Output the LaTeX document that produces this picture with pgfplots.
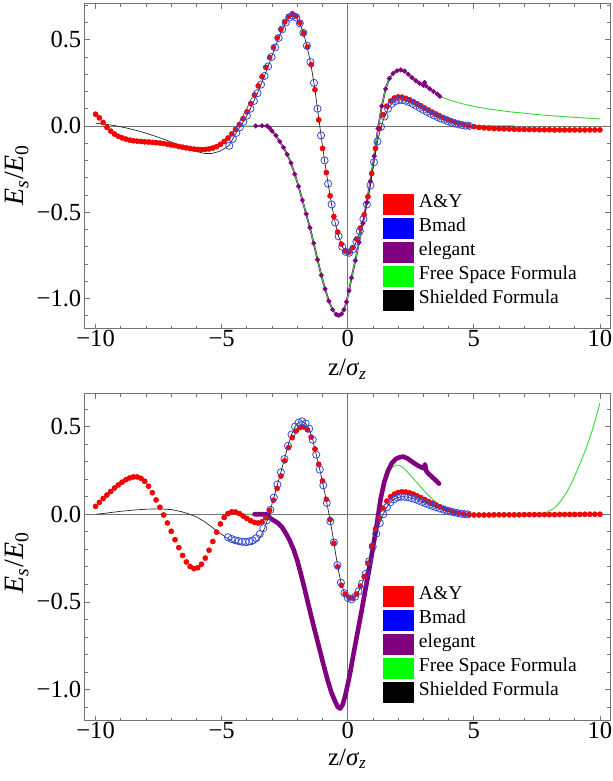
\documentclass[border=0pt]{standalone}
\usepackage{fontspec}
\setmainfont{Liberation Serif}
\usepackage{pgfplots}
\pgfplotsset{compat=1.18}
\definecolor{myred}{rgb}{1,0,0}
\definecolor{myblue}{rgb}{0,0,1}
\definecolor{circblue}{rgb}{0.2,0.3,0.85}
\definecolor{mypurple}{rgb}{0.5,0,0.5}
\definecolor{mygreen}{rgb}{0,1,0}
\definecolor{linegreen}{rgb}{0.2,0.85,0.2}
\definecolor{framegray}{gray}{0.45}
\pgfplotsset{
 mystyle/.style={
  scale only axis, width=262.5pt, anchor=south west,
  xmin=-10.42, xmax=10.4,
  xtick={-10,-5,0,5,10}, xticklabels={−10,−5,0,5,10},
  minor xtick={-9,-8,-7,-6,-4,-3,-2,-1,1,2,3,4,6,7,8,9},
  ytick={-1,-0.5,0,0.5}, yticklabels={−1.0,−0.5,0.0,0.5},
  tick align=inside, tick pos=both,
  major tick length=2.5pt, minor tick length=1.4pt,
  axis line style={framegray, line width=0.5pt},
  tick style={framegray, line width=0.4pt},
  tick label style={font=\fontsize{12.3}{14}\selectfont, text=black},
  yticklabel style={inner xsep=1.65pt},
  xticklabel style={inner ysep=0.6pt},
  xlabel style={font=\fontsize{12.5}{14}\selectfont},
  ylabel style={font=\fontsize{14}{16}\selectfont},
  xlabel={z/\textit{σ}\textsubscript{\textit{z}}},
  ylabel={\textit{E}\textsubscript{\textit{s}}/\textit{E}\textsubscript{0}},
  extra x ticks={0}, extra y ticks={0}, extra x tick labels={}, extra y tick labels={},
  extra tick style={grid=major, major grid style={framegray, line width=0.45pt}, major tick length=0pt},
  legend cell align=left,
  legend style={draw=none, fill=none, inner sep=0pt, anchor=north west,
    font=\fontsize{9.8}{11}\selectfont, column sep=2.5pt, row sep=0pt,
    nodes={inner xsep=0pt, inner ysep=0.825pt, text height=6.8pt, text depth=3.55pt}},
 },
 swatch/.style={legend image code/.code={\fill[#1, draw=none, line width=0pt] (0pt,-5.175pt) rectangle (15.3pt,5.175pt);}},
 redpts/.style={only marks, mark=*, mark size=1.3pt, color=myred, mark options={fill=myred, draw=myred!85!black, line width=0.2pt}, swatch=myred},
 bluepts/.style={only marks, mark=o, mark size=1.8pt, color=circblue, mark options={line width=0.4pt}, swatch=myblue},
 greenline/.style={linegreen, line width=0.45pt, no marks, swatch=mygreen},
 blackline/.style={black!85, line width=0.35pt, no marks, swatch=black},
}
\begin{document}
\begin{tikzpicture}
\useasboundingbox (0,0) rectangle (306.5pt,390.5pt);
%================ TOP =================
\begin{axis}[mystyle, at={(42.5pt,226pt)}, height=162.5pt,
  ymin=-1.177, ymax=0.707,
  minor ytick={-1.1,-0.9,-0.8,-0.7,-0.6,-0.4,-0.3,-0.2,-0.1,0.1,0.2,0.3,0.4,0.6,0.7},
  xlabel style={at={(axis description cs:0.5,-0.123)}, anchor=center},
  ylabel style={at={(axis description cs:-0.1295,0.474)}, anchor=center, rotate=0},
  legend style={at={(0.5676,0.4205)}}]
\addplot[redpts] coordinates {(-10.00,0.068) (-9.85,0.047) (-9.70,0.020) (-9.55,-0.008) (-9.40,-0.030) (-9.25,-0.047) (-9.10,-0.060) (-8.95,-0.069) (-8.80,-0.076) (-8.65,-0.082) (-8.50,-0.086) (-8.35,-0.088) (-8.20,-0.090) (-8.05,-0.092) (-7.90,-0.093) (-7.75,-0.095) (-7.60,-0.097) (-7.45,-0.099) (-7.30,-0.102) (-7.15,-0.106) (-7.00,-0.110) (-6.85,-0.114) (-6.70,-0.119) (-6.55,-0.123) (-6.40,-0.127) (-6.25,-0.131) (-6.10,-0.134) (-5.95,-0.136) (-5.80,-0.137) (-5.65,-0.136) (-5.50,-0.133) (-5.35,-0.128) (-5.20,-0.120) (-5.05,-0.107) (-4.90,-0.090) (-4.75,-0.070) (-4.60,-0.046) (-4.45,-0.020) (-4.30,0.008) (-4.15,0.042) (-4.00,0.082) (-3.85,0.130) (-3.70,0.180) (-3.55,0.232) (-3.40,0.285) (-3.25,0.340) (-3.10,0.397) (-2.95,0.455) (-2.80,0.510) (-2.65,0.560) (-2.50,0.603) (-2.35,0.635) (-2.20,0.650) (-2.05,0.637) (-1.90,0.598) (-1.75,0.538) (-1.60,0.458) (-1.45,0.355) (-1.30,0.210) (-1.15,0.035) (-1.00,-0.130) (-0.85,-0.270) (-0.70,-0.405) (-0.55,-0.525) (-0.40,-0.615) (-0.25,-0.685) (-0.10,-0.725) (0.05,-0.732) (0.20,-0.705) (0.35,-0.655) (0.50,-0.592) (0.65,-0.515) (0.80,-0.410) (0.95,-0.275) (1.10,-0.130) (1.25,-0.015) (1.40,0.065) (1.55,0.115) (1.70,0.145) (1.85,0.162) (2.00,0.168) (2.15,0.167) (2.30,0.160) (2.45,0.152) (2.60,0.141) (2.75,0.129) (2.90,0.117) (3.05,0.104) (3.20,0.092) (3.35,0.080) (3.50,0.069) (3.65,0.058) (3.80,0.048) (3.95,0.039) (4.10,0.030) (4.25,0.022) (4.40,0.015) (4.60,0.007) (4.80,0.001) (5.00,-0.004) (5.20,-0.008) (5.40,-0.011) (5.60,-0.013) (5.80,-0.015) (6.00,-0.016) (6.20,-0.017) (6.40,-0.018) (6.60,-0.019) (6.80,-0.020) (7.00,-0.020) (7.20,-0.021) (7.40,-0.021) (7.60,-0.022) (7.80,-0.022) (8.00,-0.022) (8.20,-0.023) (8.40,-0.023) (8.60,-0.023) (8.80,-0.023) (9.00,-0.023) (9.20,-0.023) (9.40,-0.023) (9.60,-0.023) (9.80,-0.023) (10.00,-0.023)};
\addlegendentry{A\&Y}
\addplot[bluepts] coordinates {(-4.70,-0.115) (-4.56,-0.075) (-4.42,-0.040) (-4.28,-0.008) (-4.14,0.025) (-4.00,0.060) (-3.86,0.100) (-3.72,0.145) (-3.58,0.190) (-3.44,0.240) (-3.30,0.290) (-3.16,0.345) (-3.02,0.400) (-2.88,0.455) (-2.74,0.510) (-2.60,0.560) (-2.46,0.600) (-2.32,0.628) (-2.18,0.638) (-2.04,0.628) (-1.90,0.595) (-1.76,0.540) (-1.62,0.465) (-1.48,0.370) (-1.34,0.250) (-1.20,0.100) (-1.06,-0.055) (-0.92,-0.200) (-0.78,-0.335) (-0.64,-0.455) (-0.50,-0.560) (-0.36,-0.640) (-0.22,-0.700) (-0.08,-0.730) (0.06,-0.735) (0.20,-0.715) (0.34,-0.670) (0.48,-0.610) (0.62,-0.540) (0.76,-0.455) (0.90,-0.345) (1.04,-0.210) (1.18,-0.090) (1.32,-0.005) (1.46,0.055) (1.60,0.100) (1.74,0.128) (1.88,0.143) (2.02,0.150) (2.16,0.150) (2.30,0.146) (2.44,0.138) (2.58,0.128) (2.72,0.117) (2.86,0.105) (3.00,0.093) (3.14,0.082) (3.28,0.071) (3.42,0.061) (3.56,0.052) (3.70,0.043) (3.84,0.035) (3.98,0.027) (4.12,0.020) (4.26,0.014) (4.40,0.009) (4.54,0.005) (4.68,0.002) (4.82,0.000)};
\addlegendentry{Bmad}
\addplot[mypurple, line width=0.9pt, mark=*, mark size=0.7pt, swatch=mypurple] coordinates {(-3.65,0.000) (-3.40,0.001) (-3.20,0.000) (-3.10,-0.012) (-3.00,-0.030) (-2.85,-0.055) (-2.70,-0.090) (-2.55,-0.125) (-2.40,-0.165) (-2.25,-0.215) (-2.10,-0.280) (-1.95,-0.350) (-1.80,-0.430) (-1.65,-0.510) (-1.50,-0.590) (-1.35,-0.680) (-1.20,-0.775) (-1.05,-0.865) (-0.90,-0.945) (-0.75,-1.015) (-0.60,-1.065) (-0.45,-1.093) (-0.35,-1.098) (-0.25,-1.090) (-0.15,-1.065) (-0.05,-1.020) (0.05,-0.955) (0.15,-0.880) (0.30,-0.780) (0.45,-0.675) (0.60,-0.565) (0.75,-0.445) (0.90,-0.320) (1.05,-0.175) (1.20,-0.015) (1.35,0.115) (1.50,0.215) (1.65,0.275) (1.80,0.305) (1.95,0.320) (2.10,0.325) (2.25,0.318) (2.40,0.300) (2.55,0.280) (2.70,0.262) (2.85,0.247) (3.00,0.236) (3.05,0.252) (3.10,0.232) (3.25,0.215) (3.40,0.200) (3.55,0.185) (3.65,0.172)};
\addlegendentry{elegant}
\addplot[greenline] coordinates {(-4.10,0.000) (-3.65,0.000) (-3.40,0.000) (-3.20,-0.002) (-3.10,-0.012) (-3.00,-0.030) (-2.85,-0.055) (-2.70,-0.090) (-2.55,-0.125) (-2.40,-0.165) (-2.25,-0.215) (-2.10,-0.280) (-1.95,-0.350) (-1.80,-0.430) (-1.65,-0.510) (-1.50,-0.590) (-1.35,-0.680) (-1.20,-0.775) (-1.05,-0.865) (-0.90,-0.945) (-0.75,-1.015) (-0.60,-1.065) (-0.45,-1.093) (-0.35,-1.098) (-0.25,-1.090) (-0.15,-1.065) (-0.05,-1.020) (0.05,-0.955) (0.15,-0.880) (0.30,-0.780) (0.45,-0.675) (0.60,-0.565) (0.75,-0.445) (0.90,-0.320) (1.05,-0.175) (1.20,-0.015) (1.35,0.115) (1.50,0.215) (1.65,0.275) (1.80,0.305) (1.95,0.320) (2.10,0.325) (2.25,0.318) (2.40,0.300) (2.55,0.280) (2.70,0.262) (2.85,0.247) (3.00,0.234) (3.25,0.213) (3.45,0.195) (3.65,0.172) (4.00,0.152) (4.40,0.134) (4.80,0.120) (5.20,0.108) (5.60,0.098) (6.00,0.090) (6.50,0.081) (7.00,0.074) (7.50,0.066) (8.00,0.060) (8.50,0.055) (9.00,0.050) (9.50,0.045) (10.00,0.041)};
\addlegendentry{Free Space Formula}
\addplot[blackline] coordinates {(-10.00,0.016) (-9.60,0.010) (-9.20,0.001) (-8.80,-0.011) (-8.40,-0.025) (-8.00,-0.042) (-7.60,-0.061) (-7.20,-0.082) (-6.80,-0.104) (-6.40,-0.127) (-6.00,-0.148) (-5.70,-0.159) (-5.40,-0.160) (-5.10,-0.148) (-4.90,-0.132) (-4.70,-0.112) (-4.56,-0.075) (-4.42,-0.040) (-4.28,-0.008) (-4.14,0.025) (-4.00,0.060) (-3.86,0.100) (-3.72,0.145) (-3.58,0.190) (-3.44,0.240) (-3.30,0.290) (-3.16,0.345) (-3.02,0.400) (-2.88,0.455) (-2.74,0.510) (-2.60,0.560) (-2.46,0.600) (-2.32,0.628) (-2.18,0.638) (-2.04,0.628) (-1.90,0.595) (-1.76,0.540) (-1.62,0.465) (-1.48,0.370) (-1.34,0.250) (-1.20,0.100) (-1.06,-0.055) (-0.92,-0.200) (-0.78,-0.335) (-0.64,-0.455) (-0.50,-0.560) (-0.36,-0.640) (-0.22,-0.700) (-0.08,-0.730) (0.06,-0.735) (0.20,-0.715) (0.34,-0.670) (0.48,-0.610) (0.62,-0.540) (0.76,-0.455) (0.90,-0.345) (1.04,-0.210) (1.18,-0.090) (1.32,-0.005) (1.46,0.055) (1.60,0.100) (1.74,0.128) (1.88,0.143) (2.02,0.150) (2.16,0.150) (2.30,0.146) (2.44,0.138) (2.58,0.128) (2.72,0.117) (2.86,0.105) (3.00,0.093) (3.14,0.082) (3.28,0.071) (3.42,0.061) (3.56,0.052) (3.70,0.043) (3.84,0.035) (3.98,0.027) (4.12,0.020) (4.26,0.014) (4.40,0.009) (4.54,0.005) (4.68,0.002) (4.82,0.000) (5.50,0.000) (6.60,0.000)};
\addlegendentry{Shielded Formula}
\end{axis}
%================ BOTTOM =================
\begin{axis}[mystyle, at={(42.5pt,30pt)}, height=163.5pt,
  ymin=-1.179, ymax=0.686,
  minor ytick={-1.1,-0.9,-0.8,-0.7,-0.6,-0.4,-0.3,-0.2,-0.1,0.1,0.2,0.3,0.4,0.6},
  xlabel style={at={(axis description cs:0.5,-0.116)}, anchor=center},
  ylabel style={at={(axis description cs:-0.1295,0.485)}, anchor=center, rotate=0},
  legend style={at={(0.5676,0.4179)}}]
% Free Space Formula drawn first so that the thick elegant band covers it
\addplot[greenline, forget plot] coordinates {(-4.00,0.000) (-3.70,0.000) (-3.20,-0.003) (-3.10,-0.020) (-2.90,-0.038) (-2.75,-0.052) (-2.60,-0.075) (-2.45,-0.110) (-2.30,-0.150) (-2.15,-0.200) (-2.00,-0.265) (-1.85,-0.345) (-1.70,-0.432) (-1.55,-0.522) (-1.40,-0.610) (-1.25,-0.695) (-1.10,-0.780) (-0.95,-0.865) (-0.80,-0.945) (-0.65,-1.015) (-0.50,-1.068) (-0.40,-1.098) (-0.30,-1.105) (-0.20,-1.085) (-0.10,-1.035) (0.00,-0.970) (0.10,-0.900) (0.25,-0.780) (0.40,-0.665) (0.55,-0.550) (0.70,-0.430) (0.85,-0.315) (1.00,-0.190) (1.15,-0.060) (1.30,0.070) (1.45,0.160) (1.60,0.225) (1.75,0.265) (1.90,0.280) (2.00,0.281) (2.15,0.270) (2.30,0.252) (2.45,0.228) (2.60,0.204) (2.75,0.180) (2.90,0.155) (3.05,0.130) (3.20,0.108) (3.40,0.080) (3.60,0.058) (3.80,0.040) (4.00,0.025) (4.20,0.014) (4.40,0.006) (4.70,0.001) (5.00,0.000) (6.00,0.000) (7.00,0.000) (7.40,0.001) (7.70,0.005) (7.90,0.012) (8.10,0.027) (8.30,0.050) (8.50,0.085) (8.70,0.130) (8.90,0.185) (9.10,0.250) (9.30,0.320) (9.50,0.395) (9.70,0.480) (9.85,0.555) (10.00,0.633)};
\addplot[redpts] coordinates {(-10.00,0.045) (-9.85,0.068) (-9.70,0.090) (-9.55,0.110) (-9.40,0.130) (-9.25,0.150) (-9.10,0.167) (-8.95,0.183) (-8.80,0.197) (-8.65,0.207) (-8.50,0.213) (-8.35,0.213) (-8.20,0.205) (-8.05,0.188) (-7.90,0.160) (-7.75,0.123) (-7.60,0.082) (-7.45,0.040) (-7.30,-0.004) (-7.15,-0.050) (-7.00,-0.097) (-6.85,-0.145) (-6.70,-0.190) (-6.55,-0.235) (-6.40,-0.272) (-6.25,-0.298) (-6.10,-0.310) (-5.95,-0.305) (-5.80,-0.285) (-5.65,-0.250) (-5.50,-0.205) (-5.35,-0.155) (-5.20,-0.102) (-5.05,-0.055) (-4.90,-0.018) (-4.75,0.004) (-4.60,0.014) (-4.45,0.013) (-4.30,0.004) (-4.15,-0.010) (-4.00,-0.024) (-3.85,-0.037) (-3.70,-0.046) (-3.55,-0.050) (-3.40,-0.043) (-3.25,-0.020) (-3.10,0.022) (-2.95,0.080) (-2.80,0.148) (-2.65,0.218) (-2.50,0.305) (-2.35,0.380) (-2.20,0.437) (-2.05,0.475) (-1.90,0.495) (-1.75,0.498) (-1.60,0.482) (-1.45,0.440) (-1.30,0.372) (-1.15,0.285) (-1.00,0.190) (-0.85,0.085) (-0.70,-0.030) (-0.55,-0.165) (-0.40,-0.300) (-0.25,-0.405) (-0.10,-0.455) (0.05,-0.475) (0.20,-0.478) (0.35,-0.455) (0.50,-0.410) (0.65,-0.355) (0.80,-0.280) (0.95,-0.180) (1.10,-0.085) (1.25,-0.020) (1.40,0.035) (1.55,0.075) (1.70,0.100) (1.85,0.115) (2.00,0.124) (2.15,0.128) (2.30,0.127) (2.45,0.122) (2.60,0.115) (2.75,0.105) (2.90,0.095) (3.05,0.084) (3.20,0.073) (3.35,0.063) (3.50,0.053) (3.65,0.043) (3.80,0.034) (3.95,0.026) (4.10,0.018) (4.25,0.011) (4.40,0.006) (4.60,0.001) (4.80,-0.002) (5.00,-0.004) (5.20,-0.004) (5.40,-0.004) (5.60,-0.004) (5.80,-0.003) (6.00,-0.003) (6.20,-0.003) (6.40,-0.003) (6.60,-0.003) (6.80,-0.003) (7.00,-0.002) (7.20,-0.002) (7.40,-0.002) (7.60,-0.002) (7.80,-0.002) (8.00,-0.002) (8.20,-0.002) (8.40,-0.001) (8.60,-0.001) (8.80,-0.001) (9.00,-0.001) (9.20,-0.001) (9.40,0.000) (9.60,0.000) (9.80,0.000) (10.00,0.000)};
\addlegendentry{A\&Y}
\addplot[bluepts] coordinates {(-4.75,-0.131) (-4.61,-0.141) (-4.47,-0.148) (-4.33,-0.153) (-4.19,-0.156) (-4.05,-0.157) (-3.91,-0.155) (-3.77,-0.149) (-3.63,-0.136) (-3.49,-0.113) (-3.35,-0.080) (-3.21,-0.035) (-3.07,0.025) (-2.93,0.095) (-2.79,0.170) (-2.65,0.240) (-2.51,0.315) (-2.37,0.390) (-2.23,0.455) (-2.09,0.500) (-1.95,0.523) (-1.81,0.530) (-1.67,0.518) (-1.53,0.488) (-1.39,0.425) (-1.25,0.340) (-1.11,0.255) (-0.97,0.165) (-0.83,0.065) (-0.69,-0.040) (-0.55,-0.160) (-0.41,-0.290) (-0.27,-0.390) (-0.13,-0.450) (0.01,-0.478) (0.15,-0.485) (0.29,-0.470) (0.43,-0.440) (0.57,-0.395) (0.71,-0.340) (0.85,-0.268) (0.99,-0.185) (1.13,-0.110) (1.27,-0.050) (1.41,0.000) (1.55,0.040) (1.69,0.068) (1.83,0.085) (1.97,0.095) (2.11,0.100) (2.25,0.100) (2.39,0.097) (2.53,0.092) (2.67,0.086) (2.81,0.078) (2.95,0.070) (3.09,0.062) (3.23,0.054) (3.37,0.047) (3.51,0.040) (3.65,0.033) (3.79,0.027) (3.93,0.021) (4.07,0.016) (4.21,0.011) (4.35,0.007) (4.49,0.003) (4.63,0.001) (4.77,-0.001)};
\addlegendentry{Bmad}
\addplot[mypurple, line width=2.3pt, line cap=round, line join=round, no marks, swatch=mypurple] coordinates {(-3.70,0.000) (-3.45,0.000) (-3.20,0.000) (-3.10,-0.020) (-2.90,-0.038) (-2.75,-0.052) (-2.60,-0.075) (-2.45,-0.110) (-2.30,-0.150) (-2.15,-0.200) (-2.00,-0.265) (-1.85,-0.345) (-1.70,-0.432) (-1.55,-0.522) (-1.40,-0.610) (-1.25,-0.695) (-1.10,-0.780) (-0.95,-0.865) (-0.80,-0.945) (-0.65,-1.015) (-0.50,-1.068) (-0.40,-1.098) (-0.30,-1.108) (-0.20,-1.085) (-0.10,-1.035) (0.00,-0.970) (0.10,-0.900) (0.25,-0.780) (0.40,-0.665) (0.55,-0.550) (0.70,-0.430) (0.85,-0.315) (1.00,-0.190) (1.15,-0.060) (1.30,0.085) (1.45,0.185) (1.60,0.250) (1.75,0.292) (1.90,0.315) (2.05,0.325) (2.20,0.329) (2.35,0.320) (2.50,0.305) (2.65,0.290) (2.80,0.276) (2.95,0.266) (3.03,0.262) (3.06,0.285) (3.12,0.245) (3.20,0.232) (3.35,0.212) (3.50,0.192) (3.62,0.175)};
\addlegendentry{elegant}
\addlegendimage{swatch=mygreen}
\addlegendentry{Free Space Formula}
\addplot[blackline] coordinates {(-10.00,0.000) (-9.50,0.008) (-9.00,0.017) (-8.50,0.024) (-8.00,0.029) (-7.50,0.031) (-7.00,0.027) (-6.60,0.015) (-6.30,0.002) (-6.00,-0.015) (-5.70,-0.040) (-5.40,-0.072) (-5.10,-0.104) (-4.80,-0.135) (-4.50,-0.160) (-4.20,-0.175) (-4.00,-0.177) (-3.80,-0.172) (-3.60,-0.155) (-3.45,-0.125) (-3.30,-0.080) (-3.15,-0.020) (-3.07,0.025) (-2.93,0.095) (-2.79,0.170) (-2.65,0.240) (-2.51,0.315) (-2.37,0.390) (-2.23,0.455) (-2.09,0.500) (-1.95,0.523) (-1.81,0.530) (-1.67,0.518) (-1.53,0.488) (-1.39,0.425) (-1.25,0.340) (-1.11,0.255) (-0.97,0.165) (-0.83,0.065) (-0.69,-0.040) (-0.55,-0.160) (-0.41,-0.290) (-0.27,-0.390) (-0.13,-0.450) (0.01,-0.478) (0.15,-0.485) (0.29,-0.470) (0.43,-0.440) (0.57,-0.395) (0.71,-0.340) (0.85,-0.268) (0.99,-0.185) (1.13,-0.110) (1.27,-0.050) (1.41,0.000) (1.55,0.040) (1.69,0.068) (1.83,0.085) (1.97,0.095) (2.11,0.100) (2.25,0.100) (2.39,0.097) (2.53,0.092) (2.67,0.086) (2.81,0.078) (2.95,0.070) (3.09,0.062) (3.23,0.054) (3.37,0.047) (3.51,0.040) (3.65,0.033) (3.79,0.027) (3.93,0.021) (4.07,0.016) (4.21,0.011) (4.35,0.007) (4.49,0.003) (4.63,0.001) (4.77,-0.001) (5.50,0.000) (6.60,0.000)};
\addlegendentry{Shielded Formula}
\end{axis}
\end{tikzpicture}
\end{document}
